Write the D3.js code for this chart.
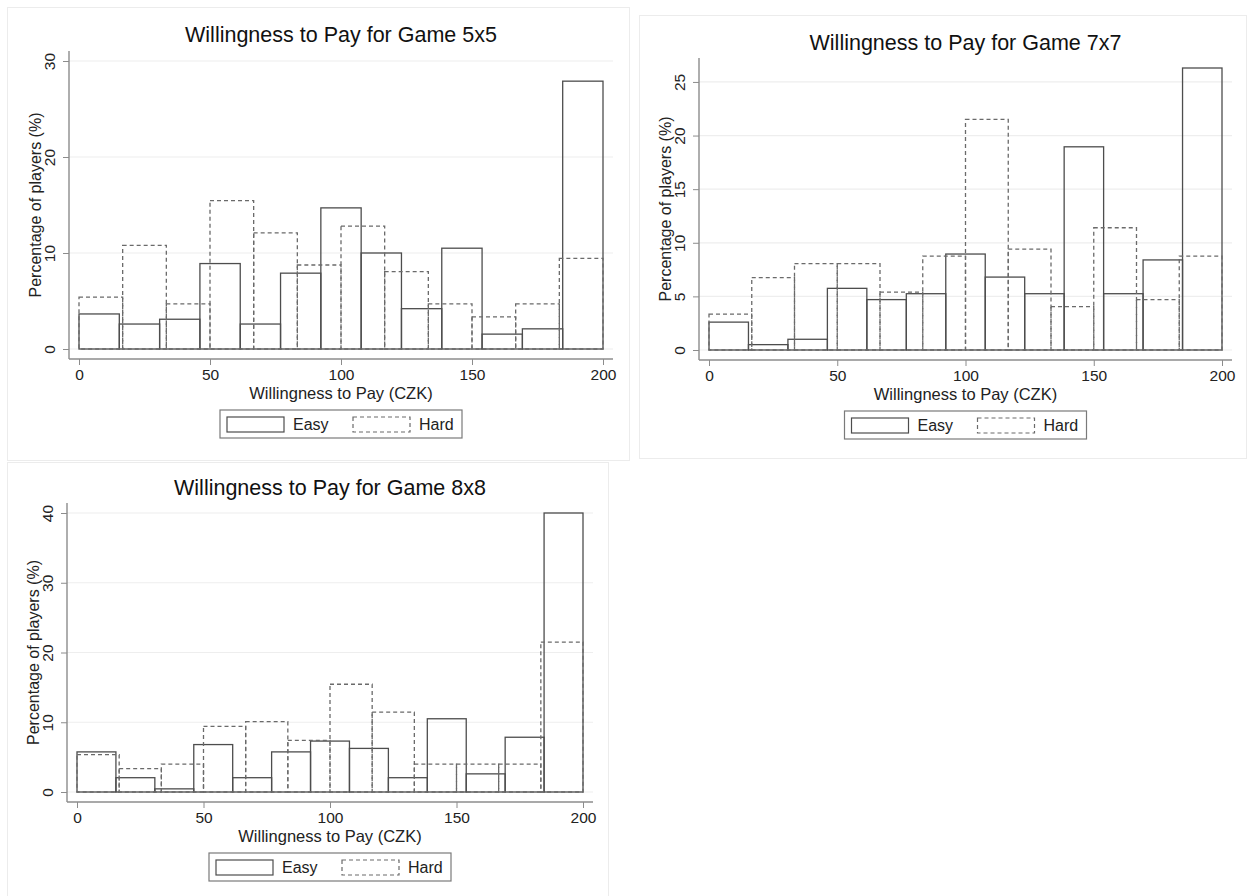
<!DOCTYPE html>
<html>
<head>
<meta charset="utf-8">
<script src="https://cdn.jsdelivr.net/npm/d3@7"></script>
<style>
	body { margin: 0; background: #fff; }
	text { font-family: "Liberation Sans", Arial, sans-serif; }
</style>
</head>
<body onload="onLoad()">
<div></div>
<script>
var svgContainer;

// histogram range and bin counts (Easy uses 13 bins, Hard uses 12)
var xMin = 0,
	xMax = 200,
	easyBinCount = 13,
	hardBinCount = 12;

var xTicks = [0, 50, 100, 150, 200];

var titles = [
	"Willingness to Pay for Game 5x5",
	"Willingness to Pay for Game 7x7",
	"Willingness to Pay for Game 8x8"
	];

var legendLabels = ["Easy", "Hard"];
var xTitle = "Willingness to Pay (CZK)";
var yTitle = "Percentage of players (%)";

// percentages per bin
var easy5 = [3.65, 2.6, 3.1, 8.9, 2.6, 7.9, 14.7, 10.0, 4.2, 10.5, 1.55, 2.1, 27.9];
var hard5 = [5.4, 10.8, 4.7, 15.45, 12.1, 8.75, 12.8, 8.05, 4.7, 3.35, 4.7, 9.45];

var easy7 = [2.6, 0.5, 1.0, 5.75, 4.7, 5.25, 8.95, 6.8, 5.25, 18.95, 5.25, 8.4, 26.3];
var hard7 = [3.35, 6.75, 8.05, 8.05, 5.4, 8.75, 21.5, 9.4, 4.05, 11.4, 4.7, 8.75];

var easy8 = [5.75, 2.05, 0.45, 6.8, 2.05, 5.75, 7.3, 6.25, 2.05, 10.5, 2.6, 7.85, 40.0];
var hard8 = [5.35, 3.35, 4.0, 9.4, 10.1, 7.4, 15.45, 11.45, 4.0, 4.0, 4.0, 21.5];

var yTicks5 = [0, 10, 20, 30],
	yTicks7 = [0, 5, 10, 15, 20, 25],
	yTicks8 = [0, 10, 20, 30, 40];

var yMax5 = 30,
	yMax7 = 26.3,
	yMax8 = 40;

// panel placement on the page
var layout = [
	{box: {x: 7, y: 7, w: 622, h: 453}, x0: 79, x1: 603, yBase: 349, yTop: 61, titleY: 42},
	{box: {x: 639, y: 15, w: 607, h: 443}, x0: 709, x1: 1222, yBase: 350, yTop: 68, titleY: 50},
	{box: {x: 7, y: 462, w: 601, h: 440}, x0: 77, x1: 583, yBase: 792, yTop: 513, titleY: 495}
	];

function onLoad (){

	svgContainer = d3.select("div")
	.append("svg")
	.attr("width", 1252)
	.attr("height", 896);

	drawPanel(layout[0], titles[0], easy5, hard5, yTicks5, yMax5);
	drawPanel(layout[1], titles[1], easy7, hard7, yTicks7, yMax7);
	drawPanel(layout[2], titles[2], easy8, hard8, yTicks8, yMax8);
}

///////////////////////////////////
////////////DRAWING////////////////
///////////////////////////////////

function binEdges(count) {
	return d3.range(count + 1).map(function(i) { return xMin + i * (xMax - xMin) / count; });
}

function drawPanel(p, title, easy, hard, yTicks, yMax) {
	var xScale = d3.scaleLinear().domain([xMin, xMax]).range([p.x0, p.x1]);
	var yScale = d3.scaleLinear().domain([0, yMax]).range([p.yBase, p.yTop]);

	var axisX = p.x0 - 10,
		axisY = p.yBase + 10,
		plotRight = p.x1 + 10,
		plotTop = p.yTop - 10;

	var g = svgContainer.append("g");

	g.append("rect")
	.attr("x", p.box.x + 0.5)
	.attr("y", p.box.y + 0.5)
	.attr("width", p.box.w)
	.attr("height", p.box.h)
	.style("fill", "#fff")
	.style("stroke", "#ececec");

	// gridlines
	g.selectAll(".grid")
	.data(yTicks)
	.enter()
	.append("line")
	.attr("x1", axisX)
	.attr("x2", plotRight)
	.attr("y1", function(d) { return yScale(d); })
	.attr("y2", function(d) { return yScale(d); })
	.style("stroke", "#eeeeee")
	.style("stroke-width", 1.2);

	drawBars(g, easy, binEdges(easyBinCount), xScale, yScale, "#4d4d4d", null);
	drawBars(g, hard, binEdges(hardBinCount), xScale, yScale, "#6a6a6a", "4,3");

	// axes
	var yAxis = d3.axisLeft(yScale).tickValues(yTicks).tickSize(6).tickSizeOuter(0);
	var xAxis = d3.axisBottom(xScale).tickValues(xTicks).tickSize(6).tickSizeOuter(0);

	var yAxisGroup = g.append("g")
	.attr("transform", "translate(" + axisX + ",0)")
	.call(yAxis);

	yAxisGroup.select(".domain").remove();
	yAxisGroup.selectAll(".tick line").style("stroke", "#8c8c8c");
	yAxisGroup.selectAll(".tick text")
	.attr("x", null)
	.attr("dy", "0.35em")
	.attr("text-anchor", "middle")
	.attr("transform", "translate(-19,0) rotate(-90)")
	.style("font-size", "15.5px")
	.style("fill", "#222");

	var xAxisGroup = g.append("g")
	.attr("transform", "translate(0," + axisY + ")")
	.call(xAxis);

	xAxisGroup.select(".domain").remove();
	xAxisGroup.selectAll(".tick line").style("stroke", "#8c8c8c");
	xAxisGroup.selectAll(".tick text")
	.attr("y", 10)
	.style("font-size", "15.5px")
	.style("fill", "#222");

	g.append("line")
	.attr("x1", axisX)
	.attr("x2", axisX)
	.attr("y1", plotTop)
	.attr("y2", axisY)
	.style("stroke", "#8c8c8c")
	.style("stroke-width", 1.4);

	g.append("line")
	.attr("x1", axisX)
	.attr("x2", plotRight)
	.attr("y1", axisY)
	.attr("y2", axisY)
	.style("stroke", "#8c8c8c")
	.style("stroke-width", 1.4);

	// titles
	var midX = (p.x0 + p.x1) / 2;

	g.append("text")
	.attr("x", midX)
	.attr("y", p.titleY)
	.attr("text-anchor", "middle")
	.style("font-size", "21.5px")
	.style("fill", "#111")
	.text(title);

	g.append("text")
	.attr("x", midX)
	.attr("y", axisY + 40)
	.attr("text-anchor", "middle")
	.style("font-size", "16.5px")
	.style("fill", "#222")
	.text(xTitle);

	g.append("text")
	.attr("transform", "translate(" + (axisX - 28) + "," + ((p.yBase + p.yTop) / 2) + ") rotate(-90)")
	.attr("text-anchor", "middle")
	.style("font-size", "16px")
	.style("fill", "#222")
	.text(yTitle);

	drawLegend(g, midX, axisY + 51);
}

function drawBars(g, values, edges, xScale, yScale, color, dash) {
	g.selectAll(null)
	.data(values)
	.enter()
	.append("rect")
	.attr("x", function(d, i) { return xScale(edges[i]); })
	.attr("width", function(d, i) { return xScale(edges[i + 1]) - xScale(edges[i]); })
	.attr("y", function(d) { return yScale(d); })
	.attr("height", function(d) { return yScale(0) - yScale(d); })
	.style("fill", "none")
	.style("stroke", color)
	.style("stroke-width", 1.3)
	.style("stroke-dasharray", dash);
}

function drawLegend(g, cx, top) {
	var w = 242,
		h = 28,
		left = cx - w / 2;

	g.append("rect")
	.attr("x", left)
	.attr("y", top)
	.attr("width", w)
	.attr("height", h)
	.style("fill", "#fff")
	.style("stroke", "#7a7a7a")
	.style("stroke-width", 1.2);

	var items = [
		{label: legendLabels[0], dx: 7, color: "#4d4d4d", dash: null},
		{label: legendLabels[1], dx: 133, color: "#6a6a6a", dash: "4,3"}
	];

	items.forEach(function(item) {
		g.append("rect")
		.attr("x", left + item.dx)
		.attr("y", top + 7)
		.attr("width", 57)
		.attr("height", 15)
		.style("fill", "none")
		.style("stroke", item.color)
		.style("stroke-width", 1.2)
		.style("stroke-dasharray", item.dash);

		g.append("text")
		.attr("x", left + item.dx + 66)
		.attr("y", top + 20)
		.style("font-size", "16px")
		.style("fill", "#222")
		.text(item.label);
	});
}
</script>
</body>
</html>
